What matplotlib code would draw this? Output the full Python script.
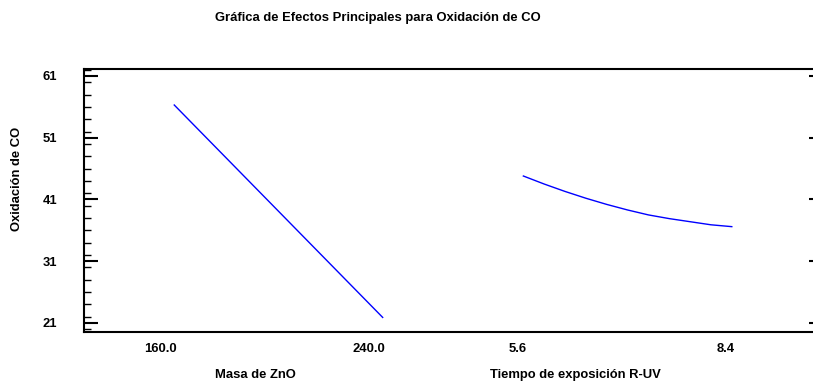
import matplotlib
matplotlib.use("Agg")
import matplotlib.pyplot as plt
import matplotlib.transforms as mtransforms
from matplotlib.ticker import MultipleLocator

# Data
masa_zno = [160.0, 240.0]
oxid_masa = [56.3, 21.9]

tiempo_uv = [5.6, 5.88, 6.16, 6.44, 6.72, 7.0, 7.28, 7.56, 7.84, 8.12, 8.4]
oxid_tiempo = [44.8, 43.5, 42.3, 41.2, 40.2, 39.3, 38.5, 37.9, 37.4, 36.9, 36.6]

y_ticks = [21, 31, 41, 51, 61]

# Settings
plt.rcParams['font.family'] = ['Liberation Sans', 'DejaVu Sans']
plt.rcParams['font.weight'] = 'bold'
fs = 9.4
W, H = 813, 385
group2_start = 1.675  # where the second factor begins on the shared x axis

fig = plt.figure(figsize=(W / 100, H / 100), dpi=100)
ax = fig.add_axes([84 / W, 1 - 331.5 / H, (816 - 84) / W, (331.5 - 69) / H])

# each factor is drawn on its own 0..1 stretch of the x axis
x1 = [(v - masa_zno[0]) / (masa_zno[-1] - masa_zno[0]) for v in masa_zno]
x2 = [group2_start + (v - tiempo_uv[0]) / (tiempo_uv[-1] - tiempo_uv[0]) for v in tiempo_uv]
ax.plot(x1, oxid_masa, color='#0000ff', lw=1.0)
ax.plot(x2, oxid_tiempo, color='#0000ff', lw=1.0)

ax.set_xlim(-0.433, 3.079)
ax.set_ylim(19.62, 62.13)

for side in ['left', 'top', 'bottom']:
    ax.spines[side].set_linewidth(1.5)
ax.spines['right'].set_visible(False)

# y axis ticks
ax.set_yticks(y_ticks)
ax.set_yticklabels([str(t) for t in y_ticks], fontsize=fs, fontweight='bold')
ax.yaxis.set_minor_locator(MultipleLocator(2))
ax.tick_params(axis='y', which='major', direction='in', length=10, width=1.5, pad=19.5)
ax.tick_params(axis='y', which='minor', direction='in', length=5, width=1.0)

# short ticks on the right edge
ax2 = ax.twinx()
ax2.set_ylim(ax.get_ylim())
ax2.set_yticks(y_ticks)
ax2.set_yticklabels([])
ax2.tick_params(axis='y', which='major', direction='in', length=5, width=1.5)
for s in ax2.spines.values():
    s.set_visible(False)

# x tick labels at the ends of each factor
ax.set_xticks([x1[0], x1[-1], x2[0], x2[-1]])
ax.set_xticklabels(['%.1f' % masa_zno[0], '%.1f' % masa_zno[-1],
                    '%.1f' % tiempo_uv[0], '%.1f' % tiempo_uv[-1]],
                   fontsize=fs, fontweight='bold')
ax.tick_params(axis='x', length=0, pad=8.5)
offset = mtransforms.ScaledTranslation(3 / 100, 0, fig.dpi_scale_trans)
for lbl in ax.get_xticklabels():
    lbl.set_horizontalalignment('right')
    lbl.set_transform(lbl.get_transform() + offset)

# labels and title
fig.text(377.5 / W, 1 - 18 / H, 'Gráfica de Efectos Principales para Oxidación de CO',
         ha='center', va='center', fontsize=fs, fontweight='bold')
fig.text(16.7 / W, 1 - 178.5 / H, 'Oxidación de CO', rotation=90,
         ha='center', va='center', fontsize=fs, fontweight='bold')
fig.text(255 / W, 1 - 375 / H, 'Masa de ZnO', ha='center', va='center',
         fontsize=fs, fontweight='bold')
fig.text(575 / W, 1 - 375 / H, 'Tiempo de exposición R-UV', ha='center', va='center',
         fontsize=fs, fontweight='bold')

plt.savefig('out.png', dpi=100)
